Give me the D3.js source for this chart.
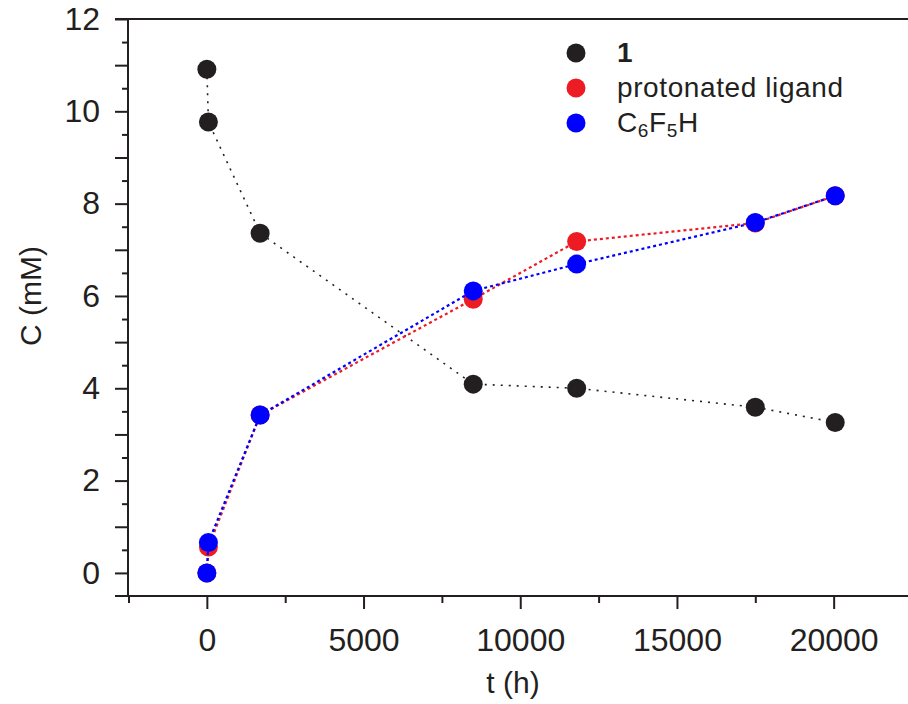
<!DOCTYPE html>
<html>
<head>
<meta charset="utf-8">
<script src="https://cdn.jsdelivr.net/npm/d3@7"></script>
<style>
  body { margin: 0; background: #fff; }
  text { font-family: "Liberation Sans", Arial, sans-serif; fill: #231f20; }
</style>
</head>
<body>
<svg id="chart" width="908" height="704"></svg>
<script>
// time points (h)
var times = [0, 50, 1700, 8500, 11800, 17500, 20050];
// concentrations (mM)
var complex1 = [10.91, 9.77, 7.36, 4.09, 4.0, 3.59, 3.26];
var ligandH = [0, 0.56, 3.42, 5.93, 7.18, 7.58, 8.17];
var c6f5h = [0, 0.66, 3.42, 6.11, 6.69, 7.59, 8.17];

var xLabelTicks = [0, 5000, 10000, 15000, 20000];
var xMinorTicks = [-2500, 2500, 7500, 12500, 17500];
var yLabelTicks = [0, 2, 4, 6, 8, 10, 12];

var seriesNames = ["1", "protonated ligand", "C6F5H"];
var seriesColors = ["#231f20", "#ed1c24", "#0000ff"];

var svg = d3.select("#chart");
var ink = "#231f20";

var x = d3.scaleLinear().domain([-2500, 22500]).range([128.5, 912]);
var y = d3.scaleLinear().domain([-0.5, 12]).range([596, 19]);

// frame lines
svg.append("line").attr("x1", 128).attr("x2", 128).attr("y1", 19).attr("y2", 597)
  .attr("stroke", ink).attr("stroke-width", 2);
svg.append("line").attr("x1", 115).attr("x2", 908).attr("y1", 596).attr("y2", 596)
  .attr("stroke", ink).attr("stroke-width", 2);
svg.append("line").attr("x1", 115).attr("x2", 908).attr("y1", 19).attr("y2", 19)
  .attr("stroke", ink).attr("stroke-width", 2);

// y axis: integer ticks long, half ticks short
var yMajor = svg.append("g").attr("transform", "translate(128,0)")
  .call(d3.axisLeft(y).tickValues(d3.range(0, 12.01, 1)).tickSize(13).tickPadding(15)
    .tickFormat(function(d) { return yLabelTicks.indexOf(d) >= 0 ? d : ""; }));
var yMinor = svg.append("g").attr("transform", "translate(128,0)")
  .call(d3.axisLeft(y).tickValues(d3.range(0.5, 12, 1)).tickSize(6).tickFormat(""));

var xMajor = svg.append("g").attr("transform", "translate(0,596)")
  .call(d3.axisBottom(x).tickValues(xLabelTicks).tickSize(13).tickPadding(19)
    .tickFormat(d3.format("d")));
var xMinor = svg.append("g").attr("transform", "translate(0,596)")
  .call(d3.axisBottom(x).tickValues(xMinorTicks).tickSize(7).tickFormat(""));

[yMajor, yMinor, xMajor, xMinor].forEach(function(g) {
  g.select(".domain").remove();
  g.selectAll("line").attr("stroke", ink).attr("stroke-width", 2);
  g.selectAll("text").attr("font-size", 32).attr("font-family", null).style("fill", ink);
});

// axis titles
svg.append("text").attr("x", 513).attr("y", 693).attr("text-anchor", "middle")
  .attr("font-size", 30).text("t (h)");
svg.append("text").attr("transform", "translate(41,296) rotate(-90)")
  .attr("text-anchor", "middle").attr("font-size", 30).text("C (mM)");

// series
var allSeries = [complex1, ligandH, c6f5h];
var dashes = ["2,6", "3,3", "3,3"];
var widths = [1.6, 2.2, 2.2];

allSeries.forEach(function(vals, i) {
  var pts = times.map(function(t, j) { return [t, vals[j]]; });
  var line = d3.line().x(function(d) { return x(d[0]); }).y(function(d) { return y(d[1]); });
  svg.append("path").datum(pts)
    .attr("d", line)
    .attr("fill", "none")
    .attr("stroke", seriesColors[i])
    .attr("stroke-width", widths[i])
    .attr("stroke-dasharray", dashes[i]);
  svg.append("g").selectAll("circle").data(pts).enter().append("circle")
    .attr("cx", function(d) { return x(d[0]); })
    .attr("cy", function(d) { return y(d[1]); })
    .attr("r", 9.5)
    .attr("fill", seriesColors[i]);
});

// legend
var legendY = [53, 88, 123];
var legend = svg.append("g");
seriesNames.forEach(function(name, i) {
  legend.append("circle").attr("cx", 576).attr("cy", legendY[i]).attr("r", 9.5)
    .attr("fill", seriesColors[i]);
  var t = legend.append("text").attr("x", 617).attr("y", legendY[i] + 9)
    .attr("font-size", 28).attr("letter-spacing", 0.6);
  if (i === 0) {
    t.attr("font-weight", "bold").text(name);
  } else if (i === 2) {
    t.append("tspan").text("C");
    t.append("tspan").attr("font-size", 19).attr("dy", 5).text("6");
    t.append("tspan").attr("dy", -5).text("F");
    t.append("tspan").attr("font-size", 19).attr("dy", 5).text("5");
    t.append("tspan").attr("dy", -5).text("H");
  } else {
    t.text(name);
  }
});
</script>
</body>
</html>
